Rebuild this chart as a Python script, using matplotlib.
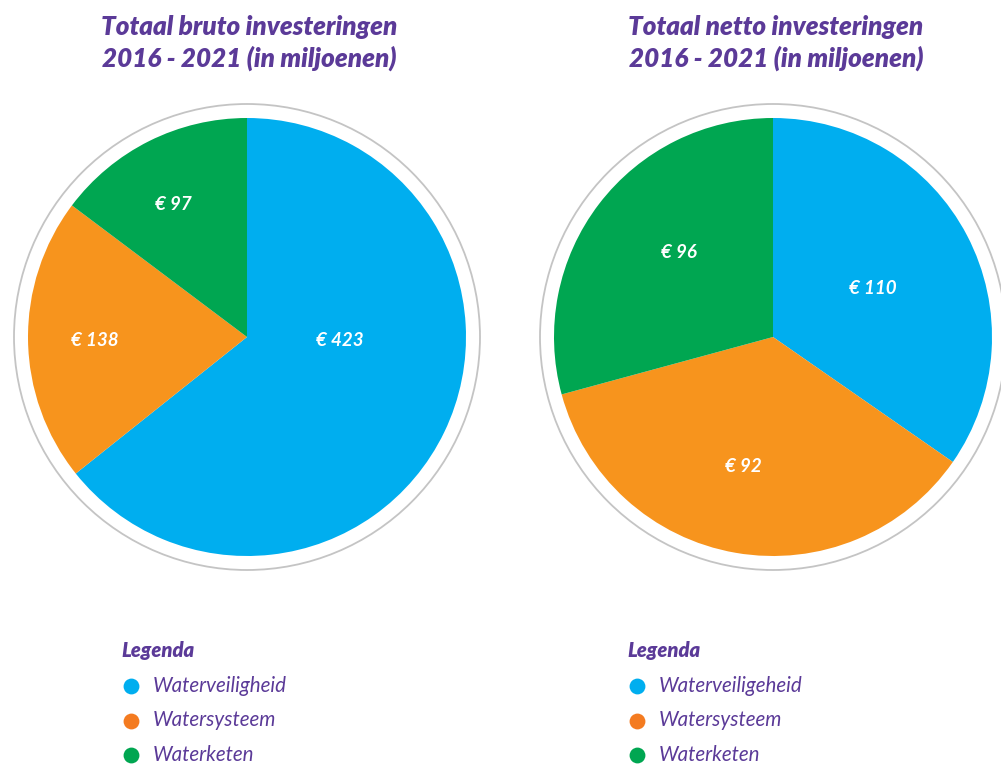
import matplotlib.pyplot as plt
from matplotlib.patches import Circle

# data
categories = ["Waterveiligheid", "Watersysteem", "Waterketen"]
legend_names_left = ["Waterveiligheid", "Watersysteem", "Waterketen"]
legend_names_right = ["Waterveiligeheid", "Watersysteem", "Waterketen"]
bruto = [423, 138, 97]
netto = [110, 92, 96]
# the netto wedges in the original are not drawn in proportion to their labels,
# these are the shares as they appear in the picture
netto_drawn = [124.8, 130.0, 105.2]
titles = ["Totaal bruto investeringen\n2016 - 2021 (in miljoenen)",
          "Totaal netto investeringen\n2016 - 2021 (in miljoenen)"]

colors = ["#00AEEF", "#F7941D", "#00A651"]
dot_colors = ["#00AEEF", "#F47B20", "#00A651"]
purple = "#5B3A98"
W, H = 1001, 764

plt.rcParams['font.family'] = ['Lato', 'DejaVu Sans']

fig = plt.figure(figsize=(W / 100, H / 100), dpi=100)
ax = fig.add_axes([0, 0, 1, 1])


def Y(p):
    return H - p


pies = [
    dict(values=bruto, drawn=bruto, cx=247, cy=337, title=titles[0], tx=249,
         label_pos=[(340, 341), (95, 341), (173, 205)],
         legend=legend_names_left, lx=121),
    dict(values=netto, drawn=netto_drawn, cx=773, cy=337, title=titles[1], tx=776,
         label_pos=[(873, 288), (743, 466), (679, 253)],
         legend=legend_names_right, lx=627),
]

R = 219
for p in pies:
    ax.pie(p["drawn"], colors=colors, startangle=90, counterclock=False,
           center=(p["cx"], Y(p["cy"])), radius=R,
           wedgeprops=dict(linewidth=0))
    ax.add_patch(Circle((p["cx"], Y(p["cy"])), 233, fill=False,
                        edgecolor="#c4c4c4", linewidth=1.3))
    for v, (x, y) in zip(p["values"], p["label_pos"]):
        ax.text(x, Y(y), f"€ {v}", color="white", fontsize=13.5, fontweight="bold",
                fontstyle="italic", ha="center", va="center")
    ax.text(p["tx"], Y(43), p["title"], color=purple, fontsize=18.7,
            fontweight="heavy", fontstyle="italic", ha="center", va="center",
            linespacing=1.3)
    ax.text(p["lx"], Y(651), "Legenda", color=purple, fontsize=14.5,
            fontweight="heavy", fontstyle="italic", ha="left", va="center")
    for i, name in enumerate(p["legend"]):
        yy = Y(686 + i * 34.5)
        ax.scatter([p["lx"] + 10], [yy], s=130, color=dot_colors[i], linewidths=0)
        ax.text(p["lx"] + 32, yy, name, color=purple, fontsize=14.8,
                fontstyle="italic", ha="left", va="center")

ax.set_xlim(0, W)
ax.set_ylim(0, H)
ax.set_aspect("equal")
ax.axis("off")

fig.savefig("out.png", dpi=100)
